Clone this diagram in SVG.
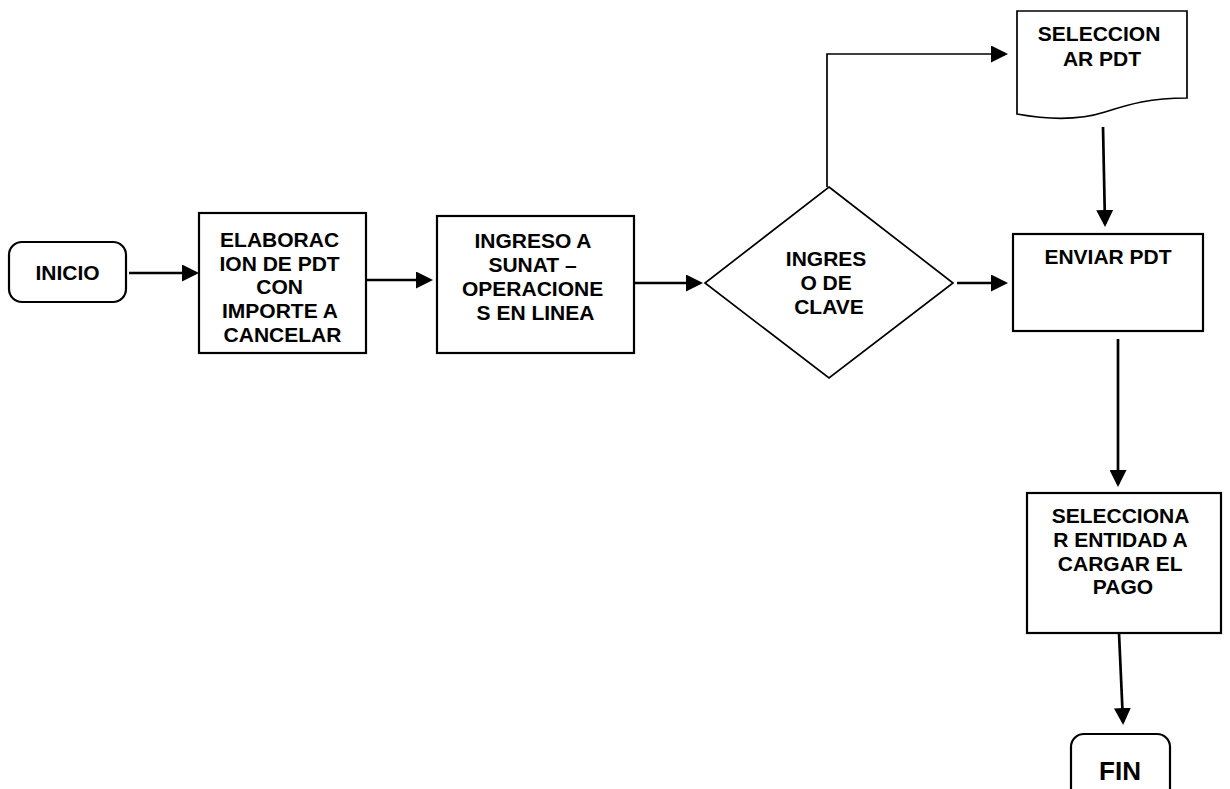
<svg xmlns="http://www.w3.org/2000/svg" width="1230" height="789" viewBox="0 0 1230 789">
  <style>
    .shape { fill: #ffffff; stroke: #000000; stroke-width: 2.2; }
    .thin { fill: #ffffff; stroke: #000000; stroke-width: 1.7; }
    .label { font-family: "Liberation Sans", Arial, sans-serif; font-weight: bold; font-size: 21px; fill: #000000; text-anchor: middle; }
    .big { font-size: 26px; }
    .conn { fill: none; stroke: #000000; stroke-width: 2.7; }
    .conn-thin { fill: none; stroke: #000000; stroke-width: 1.7; }
  </style>
  <defs>
    <marker id="arrow" viewBox="0 0 17 17" markerWidth="17" markerHeight="17" refX="14" refY="8.5" orient="auto" markerUnits="userSpaceOnUse">
      <path d="M0,0 L17,8.5 L0,17 z" fill="#000000"/>
    </marker>
  </defs>

  <!-- connectors -->
  <g id="connectors">
    <path class="conn" d="M129,273 L196,273" marker-end="url(#arrow)"/>
    <path class="conn" d="M366,280 L430,280" marker-end="url(#arrow)"/>
    <path class="conn" d="M634,283 L700,283" marker-end="url(#arrow)"/>
    <path class="conn-thin" d="M827,187 L827,54 L1000,54"/>
    <path class="conn" d="M998,54 L1005,54" marker-end="url(#arrow)"/>
    <path class="conn" d="M957,283 L1005,283" marker-end="url(#arrow)"/>
    <path class="conn" d="M1103,127 L1105,224" marker-end="url(#arrow)"/>
    <path class="conn" d="M1118,339 L1118,484" marker-end="url(#arrow)"/>
    <path class="conn" d="M1119,633 L1123,722" marker-end="url(#arrow)"/>
  </g>

  <g id="inicio">
    <rect class="shape" x="9" y="242" width="117" height="60" rx="13" ry="13"/>
    <text class="label" x="67.5" y="280">INICIO</text>
  </g>

  <g id="elaboracion">
    <rect class="shape" x="199" y="213" width="167" height="140"/>
    <text class="label" x="282.5">
      <tspan x="282.5" y="247">ELABORAC</tspan>
      <tspan x="282.5" y="270.5">ION DE PDT</tspan>
      <tspan x="282.5" y="294">CON</tspan>
      <tspan x="282.5" y="318">IMPORTE A</tspan>
      <tspan x="282.5" y="341.5">CANCELAR</tspan>
    </text>
  </g>

  <g id="ingreso-sunat">
    <rect class="shape" x="437" y="216" width="197" height="137"/>
    <text class="label">
      <tspan x="535.5" y="247.5">INGRESO A</tspan>
      <tspan x="535.5" y="271.5">SUNAT –</tspan>
      <tspan x="535.5" y="295.5">OPERACIONE</tspan>
      <tspan x="535.5" y="320">S EN LINEA</tspan>
    </text>
  </g>

  <g id="ingreso-clave">
    <polygon class="thin" points="829,187 953,283 829,378 705,283"/>
    <text class="label">
      <tspan x="829" y="265.5">INGRES</tspan>
      <tspan x="829" y="290">O DE</tspan>
      <tspan x="829" y="313.5">CLAVE</tspan>
    </text>
  </g>

  <g id="seleccionar-pdt">
    <path class="thin" d="M1017,11 L1187,11 L1187,98 C1150,98 1130,104 1105,112 C1080,120 1050,120 1017,114 Z"/>
    <text class="label">
      <tspan x="1102" y="41">SELECCION</tspan>
      <tspan x="1102" y="66">AR PDT</tspan>
    </text>
  </g>

  <g id="enviar-pdt">
    <rect class="shape" x="1013" y="234" width="190" height="97"/>
    <text class="label" x="1108" y="264">ENVIAR PDT</text>
  </g>

  <g id="seleccionar-entidad">
    <rect class="shape" x="1027" y="493" width="194" height="140"/>
    <text class="label">
      <tspan x="1123" y="523">SELECCIONA</tspan>
      <tspan x="1123" y="547">R ENTIDAD A</tspan>
      <tspan x="1123" y="571">CARGAR EL</tspan>
      <tspan x="1123" y="594">PAGO</tspan>
    </text>
  </g>

  <g id="fin">
    <rect class="shape" x="1071" y="734" width="99" height="70" rx="13" ry="13"/>
    <text class="label big" x="1120" y="780">FIN</text>
  </g>
</svg>
